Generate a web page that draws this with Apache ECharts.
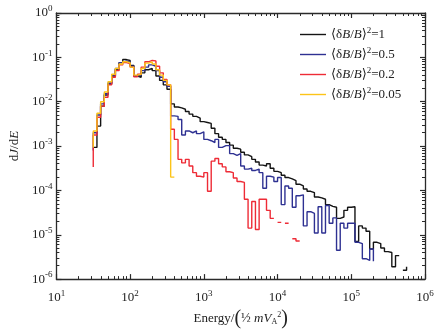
<!DOCTYPE html>
<html>
<head>
<meta charset="utf-8">
<script src="https://cdn.jsdelivr.net/npm/echarts@6/dist/echarts.min.js"></script>
<style>
  html, body { margin: 0; padding: 0; background: #fff; }
  #main { width: 442px; height: 334px; }
</style>
</head>
<body>
<div id="main"></div>
<script>
// histogram bins: left edge of bin i is log10(E) = binStart + i * binWidth
const binStart = 1.5;
const binWidth = 0.05;

// log10(dJ/dE) per bin; null = empty bin
const blackLog = [
  -3.03, -2.55, -2.10, -1.85, -1.60, -1.42, -1.27, -1.12, -1.05, -1.07,
  -1.18, -1.42, -1.45, -1.35, -1.28, -1.25, -1.30, -1.42, -1.52, -1.62,
  -1.72, -2.05, -2.12, -2.14, -2.17, -2.22, -2.28, -2.33, -2.37, -2.45,
  -2.47, -2.49, -2.60, -2.72, -2.80, -2.85, -2.92, -2.98, -3.05, -3.07,
  -3.14, -3.20, -3.24, -3.30, -3.36, -3.43, -3.45, -3.40, -3.50, -3.57,
  -3.60, -3.66, -3.71, -3.74, -3.78, -3.86, -3.90, -3.97, -4.02, -4.05,
  -4.15, -4.17, -4.20, -4.32, -4.36, -4.38, -4.63, -4.60, -4.45, -4.38,
  -4.37, -5.15, -4.80, -4.85, -4.92, -5.32, -5.17, -5.20, -5.30, -5.38,
  -5.40, -5.72, -5.47, null, -5.80
];
const blueLog = [
  -2.70, -2.30, -2.05, -1.82, -1.58, -1.40, -1.25, -1.12, -1.08, -1.10,
  -1.20, -1.42, -1.40, -1.30, -1.22, -1.17, -1.20, -1.30, -1.45, -1.55,
  -1.65, -2.32, -2.33, -2.40, -2.75, -2.66, -2.70, -2.66, -2.72, -2.68,
  -2.85, -2.88, -2.92, -2.85, -3.03, -2.99, -2.99, -3.17, -3.21, -3.17,
  -3.45, -3.52, -3.50, -3.55, -3.52, -3.60, -3.95, -3.68, -3.70, -3.80,
  -3.71, -4.32, -3.90, -3.95, -4.38, -4.12, -4.10, -4.80, -4.48, -4.52,
  -4.96, -4.37, -4.96, -4.34, -4.74, -4.62, -5.35, -4.74, -4.85, -4.74,
  -4.74, -5.17, -5.20, -5.54, -5.58, -5.32
];
const redLog = [
  -2.75, -2.35, -2.10, -1.90, -1.62, -1.45, -1.30, -1.17, -1.12, -1.14,
  -1.22, -1.44, -1.38, -1.22, -1.10, -1.07, -1.08, -1.20, -1.35, -1.50,
  -1.62, -2.62, -2.85, -3.30, -3.38, -3.30, -3.45, -3.60, -3.68, -3.70,
  -3.60, -4.02, -3.34, -3.28, -3.40, -3.47, -3.58, -3.60, -3.72, -3.80,
  -3.82, -4.20, -4.85, -4.25, -4.88, -4.20, -4.20, -4.45, -4.63, null,
  -4.72, null, -4.74, null, -5.09, -5.14
];
const yellowLog = [
  -2.66, -2.26, -2.00, -1.78, -1.55, -1.38, -1.25, -1.15, -1.10, -1.12,
  -1.22, -1.40, -1.38, -1.25, -1.13, -1.10, -1.15, -1.28, -1.40, -1.52,
  -1.62, -3.70
];
// value just outside the first / last drawn edge (vertical end strokes)
const leadLog = { black: null, blue: -3.10, red: -3.47, yellow: -3.03 };
const tailLog = { black: -5.72, blue: -5.60, red: null, yellow: null };

const seriesNames = ['1', '0.5', '0.2', '0.05'];
const seriesColors = ['#141414', '#2e3192', '#ee2b36', '#fcc419'];
const xDecades = [1, 2, 3, 4, 5, 6];
const yDecades = [-6, -5, -4, -3, -2, -1, 0];
const minorMult = [2, 3, 4, 5, 6, 7, 8, 9];

const edge = i => Math.pow(10, binStart + binWidth * i);

function stepData(vals, lead, tail) {
  const pts = [];
  if (lead != null) pts.push([edge(0), Math.pow(10, lead)]);
  vals.forEach((v, i) => {
    if (v == null) { pts.push([edge(i), '-']); return; }
    const y = Math.pow(10, v);
    pts.push([edge(i), y], [edge(i + 1), y]);
  });
  if (tail != null) pts.push([edge(vals.length), Math.pow(10, tail)]);
  return pts;
}

const majorVals = decs => decs.map(d => Math.pow(10, d));
const minorVals = decs => {
  const out = [];
  decs.slice(0, -1).forEach(d => minorMult.forEach(m => out.push(m * Math.pow(10, d))));
  return out;
};

const serif = "'Liberation Serif', 'DejaVu Serif', serif";
const ink = '#222';
const expRich = {
  b: { fontSize: 13, fontFamily: serif, color: ink },
  e: { fontSize: 9, fontFamily: serif, color: ink, padding: [0, 0, 8, 0] }
};
const expLabel = v => '{b|10}{e|' + Math.round(Math.log10(v)) + '}';

const frame = { show: true, lineStyle: { color: '#2a2a2a', width: 1.3 } };
const noLine = { show: false };
const majorTick = vals => ({ show: true, inside: true, length: 5, customValues: vals, lineStyle: { color: '#2a2a2a', width: 1.2 } });
const minorTick = vals => ({ show: true, inside: true, length: 3, customValues: vals, lineStyle: { color: '#2a2a2a', width: 1 } });

function logAxis(range, position, line, ticks, extra) {
  return Object.assign({
    type: 'log', logBase: 10, min: range[0], max: range[1], position: position,
    axisLine: line, axisTick: ticks, splitLine: { show: false },
    axisLabel: { show: false }
  }, extra || {});
}

const xRange = [10, 1e6];
const yRange = [1e-6, 1];
const xMajor = majorVals(xDecades), xMinor = minorVals(xDecades);
const yMajor = majorVals(yDecades), yMinor = minorVals(yDecades);

const chart = echarts.init(document.getElementById('main'), null, { renderer: 'canvas' });

const data = [
  stepData(blackLog, leadLog.black, tailLog.black),
  stepData(blueLog, leadLog.blue, tailLog.blue),
  stepData(redLog, leadLog.red, tailLog.red),
  stepData(yellowLog, leadLog.yellow, tailLog.yellow)
];

chart.setOption({
  backgroundColor: '#fff',
  animation: false,
  grid: { left: 53, right: 17, top: 13, bottom: 46 },
  legend: {
    orient: 'vertical',
    left: 300,
    top: 26,
    padding: 0,
    icon: 'rect',
    itemWidth: 26,
    itemHeight: 1.4,
    itemGap: 5,
    textStyle: {
      fontSize: 13,
      fontFamily: serif,
      color: ink,
      padding: [0, 0, 0, 0],
      rich: {
        n: { fontSize: 13, fontFamily: serif, color: ink },
        i: { fontSize: 13, fontFamily: serif, fontStyle: 'italic', color: ink },
        s: { fontSize: 9, fontFamily: serif, color: ink, padding: [0, 0, 8, 0] }
      }
    },
    formatter: name => '{n|⟨δ}{i|B}{n|/}{i|B}{n|⟩}{s|2}{n|=' + name + '}'
  },
  xAxis: [
    logAxis(xRange, 'bottom', frame, majorTick(xMajor), {
      axisLabel: { formatter: expLabel, rich: expRich, margin: 10, customValues: xMajor },
      name: '{n|Energy/}{p|(}{f|½}{i| mV}{sub|A}{s|2}{p|)}',
      nameLocation: 'middle',
      nameGap: 24,
      nameTextStyle: {
        rich: {
          n: { fontSize: 13, fontFamily: serif, color: ink },
          p: { fontSize: 20, fontFamily: serif, color: ink },
          f: { fontSize: 13, fontFamily: serif, color: ink },
          i: { fontSize: 13, fontFamily: serif, fontStyle: 'italic', color: ink },
          sub: { fontSize: 8, fontFamily: serif, color: ink, padding: [6, 0, 0, 0] },
          s: { fontSize: 8, fontFamily: serif, color: ink, padding: [0, 0, 8, 0] }
        }
      }
    }),
    logAxis(xRange, 'top', frame, majorTick(xMajor)),
    logAxis(xRange, 'bottom', noLine, minorTick(xMinor)),
    logAxis(xRange, 'top', noLine, minorTick(xMinor))
  ],
  yAxis: [
    logAxis(yRange, 'left', frame, majorTick(yMajor), {
      axisLabel: { formatter: expLabel, rich: expRich, margin: 4, customValues: yMajor },
      name: '{n|d}{i|J}{n|/d}{i|E}',
      nameLocation: 'middle',
      nameGap: 30,
      nameTextStyle: {
        rich: {
          n: { fontSize: 13, fontFamily: serif, color: ink },
          i: { fontSize: 13, fontFamily: serif, fontStyle: 'italic', color: ink }
        }
      }
    }),
    logAxis(yRange, 'right', frame, majorTick(yMajor)),
    logAxis(yRange, 'left', noLine, minorTick(yMinor)),
    logAxis(yRange, 'right', noLine, minorTick(yMinor))
  ],
  series: seriesNames.map((name, k) => ({
    type: 'line',
    name: name,
    xAxisIndex: 0,
    yAxisIndex: 0,
    data: data[k],
    symbol: 'none',
    showSymbol: false,
    connectNulls: false,
    color: seriesColors[k],
    lineStyle: { width: 1.4, color: seriesColors[k] },
    z: 2 + k
  }))
});
</script>
</body>
</html>
